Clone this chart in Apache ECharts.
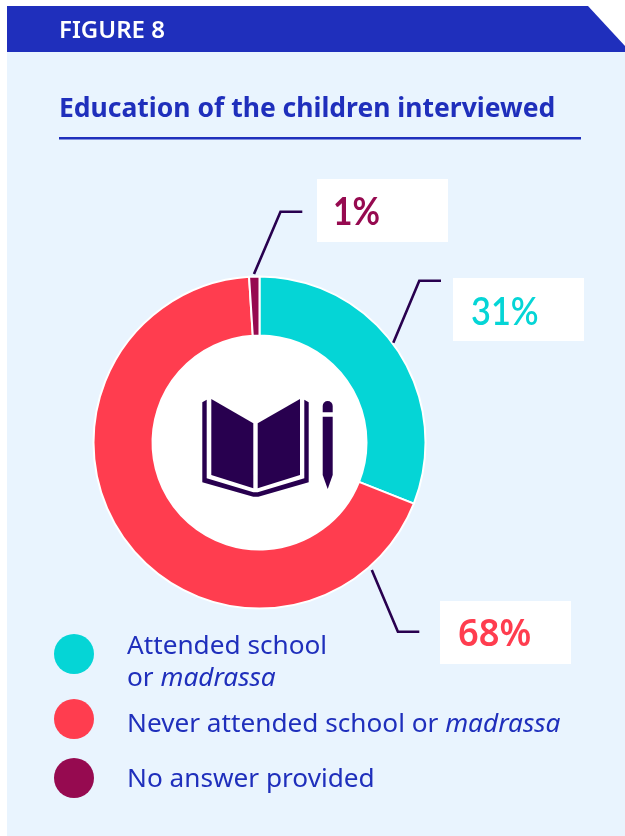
<!DOCTYPE html>
<html>
<head>
<meta charset="utf-8">
<title>Education of the children interviewed</title>
<script src="https://cdn.jsdelivr.net/npm/echarts@6/dist/echarts.min.js"></script>
<style>
  html, body { margin: 0; padding: 0; background: #ffffff; }
  #chart { width: 625px; height: 836px; }
</style>
</head>
<body>
<div id="chart"></div>
<script>
// Survey shares
const categories = ['Attended school or madrassa', 'Never attended school or madrassa', 'No answer provided'];
const shares = [31, 68, 1];
const sliceColors = ['#05D5D6', '#FF3D4F', '#960A50'];

const figureLabel = 'FIGURE 8';
const heading = 'Education of the children interviewed';

const BLUE = '#1F2FBC';
const NAVY = '#28004F';
const PANEL = '#E9F4FE';

// Callout placement per slice: white box, value text position, leader line
const callouts = [
  { box: [453, 278, 131, 63], text: [471, 312], font: '600 39px Lato', squeeze: 0.88, line: [[393.3, 342.7], [419.3, 280.7], [441, 280.7]] },
  { box: [440, 601, 131, 63], text: [458, 635], font: '600 37px "Noto Sans"', squeeze: 0.98, line: [[371.8, 570], [397.9, 631.7], [419.3, 631.7]] },
  { box: [317, 179, 131, 63], text: [333, 212], font: '700 39px Lato', squeeze: 0.86, line: [[254, 274], [280.5, 211.7], [302.3, 211.7]] }
];

const legendRich = {
  t: { fontFamily: 'Noto Sans', fontSize: 26.2, color: BLUE, lineHeight: 32 },
  i: { fontFamily: 'Noto Sans', fontSize: 26.2, fontStyle: 'italic', color: BLUE, lineHeight: 32 }
};
const legendText = [
  '{t|Attended school}\n{t|or }{i|madrassa}',
  '{t|Never attended school or }{i|madrassa}',
  '{t|No answer provided}'
];
const legendTops = [634, 699, 758];
const legendTextDrop = [18, 11, 4];

function legendFor(i) {
  return {
    left: 54,
    top: legendTops[i],
    orient: 'vertical',
    selectedMode: false,
    icon: 'circle',
    itemWidth: 40,
    itemHeight: 40,
    itemGap: 0,
    padding: 0,
    data: [categories[i]],
    itemStyle: { borderWidth: 0 },
    formatter: () => legendText[i],
    textStyle: { padding: [legendTextDrop[i], 0, 0, 28], rich: legendRich }
  };
}

// Open book and pencil in the middle of the ring
const bookIcon = [
  { type: 'polygon', shape: { points: [[211.3, 399], [253.3, 423.3], [253.3, 488.3], [211.3, 475]] }, style: { fill: NAVY } },
  { type: 'polygon', shape: { points: [[257.7, 423.3], [300, 399], [300, 475], [257.7, 488.3]] }, style: { fill: NAVY } },
  { type: 'polygon', shape: { points: [[202.3, 402.3], [206.7, 399.7], [206.7, 478.3], [253.3, 492.3], [257.7, 492.3], [304.3, 478.3], [304.3, 399.7], [308.7, 402.3], [308.7, 482.3], [258.3, 496.7], [253.3, 496.7], [202.3, 482.3]] }, style: { fill: NAVY } },
  { type: 'rect', shape: { x: 322.7, y: 401, width: 10, height: 11.3, r: [5, 5, 0, 0] }, style: { fill: NAVY } },
  { type: 'polygon', shape: { points: [[322.7, 416.7], [332.7, 416.7], [332.7, 475], [327.7, 489], [322.7, 475]] }, style: { fill: NAVY } }
];

const calloutGraphics = callouts.flatMap((c, i) => [
  { type: 'rect', shape: { x: c.box[0], y: c.box[1], width: c.box[2], height: c.box[3] }, style: { fill: '#ffffff' } },
  { type: 'text', x: c.text[0], y: c.text[1], scaleX: c.squeeze, style: { text: shares[i] + '%', font: c.font, fill: sliceColors[i], textVerticalAlign: 'middle' } },
  { type: 'polyline', shape: { points: c.line }, style: { stroke: NAVY, lineWidth: 2.6, fill: null } }
]);

const chart = echarts.init(document.getElementById('chart'), null, { renderer: 'canvas' });
chart.setOption({
  animation: false,
  backgroundColor: '#ffffff',
  legend: [legendFor(0), legendFor(1), legendFor(2)],
  series: [{
    type: 'pie',
    center: [259.5, 442.5],
    radius: [107, 166],
    startAngle: 90,
    clockwise: true,
    silent: true,
    label: { show: false },
    labelLine: { show: false },
    itemStyle: { borderColor: '#ffffff', borderWidth: 2 },
    data: categories.map((name, i) => ({ name, value: shares[i], itemStyle: { color: sliceColors[i] } }))
  }],
  graphic: [
    { type: 'rect', z: -10, shape: { x: 7, y: 52, width: 618, height: 784 }, style: { fill: PANEL } },
    { type: 'polygon', z: -9, shape: { points: [[7, 6], [588, 6], [625, 46], [625, 52], [7, 52]] }, style: { fill: BLUE } },
    { type: 'circle', z: -8, shape: { cx: 259.5, cy: 442.5, r: 108 }, style: { fill: '#ffffff' } },
    { type: 'text', z: 5, x: 59, y: 31, style: { text: figureLabel, font: '600 24px "Noto Sans"', fill: '#ffffff', textVerticalAlign: 'middle' } },
    { type: 'text', z: 5, x: 59, y: 109, style: { text: heading, font: '700 26.5px "Noto Sans"', fill: BLUE, textVerticalAlign: 'middle' } },
    { type: 'rect', z: 5, shape: { x: 59, y: 137, width: 522, height: 2.4 }, style: { fill: BLUE } },
    ...bookIcon.map(g => ({ ...g, z: 5 })),
    ...calloutGraphics.map(g => ({ ...g, z: 5 }))
  ]
});
</script>
</body>
</html>
